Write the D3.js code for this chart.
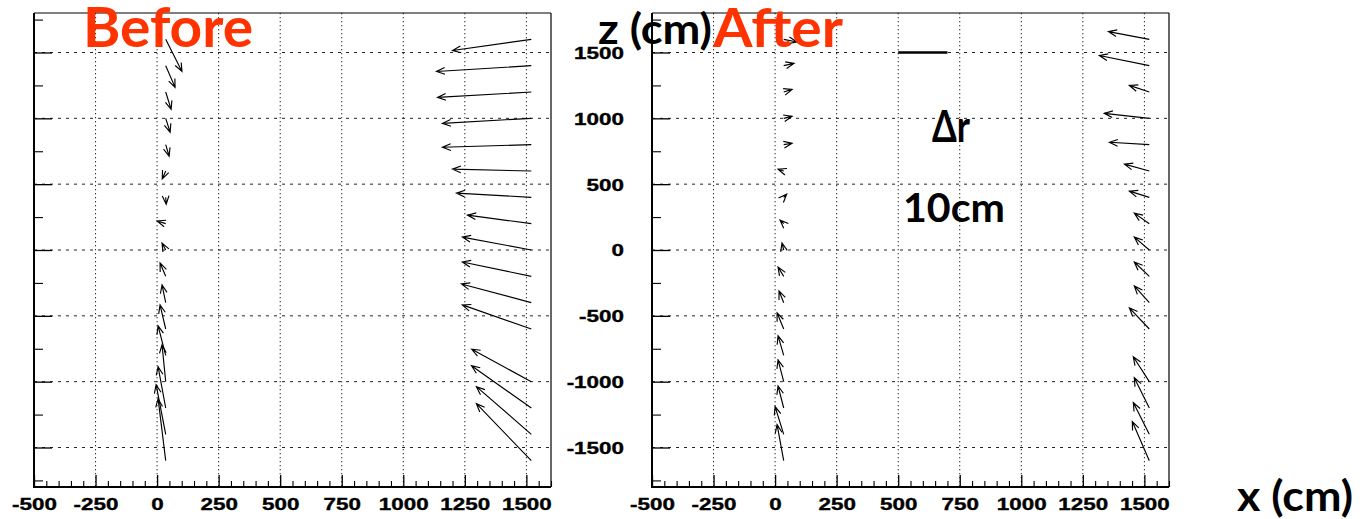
<!DOCTYPE html>
<html>
<head>
<meta charset="utf-8">
<script src="https://cdn.jsdelivr.net/npm/d3@7"></script>
<style>
  body { margin: 0; background: #fff; }
  svg { display: block; }
</style>
</head>
<body>
<svg id="chart" width="1365" height="519"></svg>
<script>
// Alignment residuals along z: each arrow starts at a (x, z) anchor and
// points along the displacement (dx, dz), given in cm.
const innerZ = [1600, 1400, 1200, 1000, 800, 600, 400, 200, 0, -200, -400, -600, -800, -1000, -1200, -1400, -1600];
const outerZ = [1600, 1400, 1200, 1000, 800, 600, 400, 200, 0, -200, -400, -600, -1000, -1200, -1400, -1600];
const innerX = 35;
const outerX = 1520;

const beforeInnerDx = [3.3, 1.9, 1.1, 0.9, 0.7, -0.7, 0.1, -1.75, -0.75, -1.15, -0.75, -1.15, -1.55, -0.75, -1.55, -1.95, -1.55];
const beforeInnerDz = [-12.2, -8.25, -6.6, -5.3, -4.4, -3.0, -2.6, 1.0, 2.65, 5.1, 6.75, 9.15, 11.2, 14.0, 15.7, 18.85, 23.55];
const beforeOuterDx = [-16, -19.25, -19.05, -18.05, -18.05, -16, -15.2, -12.95, -14, -14, -14.2, -14, -12.1, -12.15, -11.15, -11.15];
const beforeOuterDz = [-4.25, -2.2, -2.05, -1.9, -1.0, 0.7, 1.6, 3.25, 4.9, 5.45, 7.1, 9.15, 12.3, 16.05, 18.1, 21.65];

const afterInnerDx = [2.7, 2.1, 1.7, 1.7, 1.7, -1.15, 0.6, -0.75, -0.35, -1.15, -0.95, -1.35, -1.15, -1.15, -1.15, -1.75, -1.35];
const afterInnerDz = [-1.0, 0.85, 1.0, 0.75, 0.55, 0.7, 1.2, 1.35, 2.65, 3.55, 4.45, 6.15, 7.4, 8.25, 8.35, 10.55, 13.7];
const afterOuterDx = [-8.3, -10.15, -4.05, -9.15, -8.1, -5.05, -4.05, -3.05, -3.05, -3.05, -3.05, -4.05, -3.25, -3.05, -3.25, -3.45];
const afterOuterDz = [2.95, 3.85, 2.5, 1.9, 0.9, 2.6, 2.35, 4.0, 4.9, 5.45, 6.35, 8.05, 9.45, 11.5, 12.05, 14.85];

// Axis ranges and ticks (cm)
const xDomain = [-500, 1600];
const zDomain = [-1800, 1800];
const xMajorTicks = [-500, -250, 0, 250, 500, 750, 1000, 1250, 1500];
const zMajorTicks = [-1500, -1000, -500, 0, 500, 1000, 1500];
const zMinorTicks = [-1750, -1250, -750, -250, 250, 750, 1250, 1750];

// Reference bar: 10 cm of displacement
const scaleBarCm = 10;
const scaleBarStart = [500, 1500];
const arrowGain = 20; // plot units per cm of displacement

const svg = d3.select("#chart");
const plotTop = 13, plotBottom = 487;
const z = d3.scaleLinear().domain(zDomain).range([plotBottom, plotTop]);

const tickFont = "'Liberation Sans', Arial, Helvetica, sans-serif";
const stretch = 1.36;

function drawPanel(left, right, inner, outer, showZLabels, withBar) {
  const x = d3.scaleLinear().domain(xDomain).range([left, right]);
  const g = svg.append("g");

  // grid
  g.append("g").selectAll("line").data(xMajorTicks.filter(v => v > xDomain[0]))
    .join("line")
    .attr("x1", d => x(d)).attr("x2", d => x(d))
    .attr("y1", plotTop).attr("y2", plotBottom)
    .attr("stroke", "#222").attr("stroke-width", 1)
    .attr("stroke-dasharray", "1.3 2.7");
  g.append("g").selectAll("line").data(zMajorTicks)
    .join("line")
    .attr("x1", left).attr("x2", right)
    .attr("y1", d => z(d)).attr("y2", d => z(d))
    .attr("stroke", "#222").attr("stroke-width", 1)
    .attr("stroke-dasharray", "3 5");

  // arrows
  const arrows = [];
  innerZ.forEach((zz, i) => arrows.push({x0: innerX, z0: zz, dx: inner[0][i], dz: inner[1][i]}));
  outerZ.forEach((zz, i) => arrows.push({x0: outerX, z0: zz, dx: outer[0][i], dz: outer[1][i]}));
  const head = 9, spread = 22 * Math.PI / 180;
  g.append("g").selectAll("path").data(arrows).join("path")
    .attr("fill", "none").attr("stroke", "#000").attr("stroke-width", 1.15)
    .attr("stroke-linejoin", "miter")
    .attr("d", a => {
      const x1 = x(a.x0), y1 = z(a.z0);
      const x2 = x(a.x0 + a.dx * arrowGain), y2 = z(a.z0 + a.dz * arrowGain);
      const ang = Math.atan2(y2 - y1, x2 - x1);
      const b1 = [x2 - head * Math.cos(ang - spread), y2 - head * Math.sin(ang - spread)];
      const b2 = [x2 - head * Math.cos(ang + spread), y2 - head * Math.sin(ang + spread)];
      return `M${x1},${y1}L${x2},${y2}M${b1[0]},${b1[1]}L${x2},${y2}L${b2[0]},${b2[1]}`;
    });

  if (withBar) {
    g.append("line")
      .attr("x1", x(scaleBarStart[0]))
      .attr("x2", x(scaleBarStart[0] + scaleBarCm * arrowGain))
      .attr("y1", z(scaleBarStart[1])).attr("y2", z(scaleBarStart[1]))
      .attr("stroke", "#000").attr("stroke-width", 2.5);
  }

  // ticks, drawn inward from the axes
  const xMinor = d3.range(-500, 1601, 50).filter(v => !xMajorTicks.includes(v));
  g.append("g").attr("transform", `translate(0,${plotBottom})`)
    .call(d3.axisTop(x).tickValues(xMajorTicks).tickSize(12).tickFormat(""))
    .call(s => s.select(".domain").remove())
    .selectAll("line").attr("stroke-width", 1.3);
  g.append("g").attr("transform", `translate(0,${plotBottom})`)
    .call(d3.axisTop(x).tickValues(xMinor).tickSize(6).tickFormat(""))
    .call(s => s.select(".domain").remove())
    .selectAll("line").attr("stroke-width", 1.1);
  g.append("g").attr("transform", `translate(${left},0)`)
    .call(d3.axisRight(z).tickValues(zMajorTicks).tickSize(18).tickFormat(""))
    .call(s => s.select(".domain").remove())
    .selectAll("line").attr("stroke-width", 1.3);
  g.append("g").attr("transform", `translate(${left},0)`)
    .call(d3.axisRight(z).tickValues(zMinorTicks).tickSize(9).tickFormat(""))
    .call(s => s.select(".domain").remove())
    .selectAll("line").attr("stroke-width", 1.1);

  // tick labels
  const xl = g.append("g").attr("transform", `translate(0,${plotBottom})`)
    .call(d3.axisBottom(x).tickValues(xMajorTicks).tickSize(0).tickFormat(d => String(d)))
    .call(s => s.select(".domain").remove());
  xl.attr("font-family", tickFont).attr("font-size", 16.5).attr("font-weight", "bold");
  xl.selectAll("text").attr("y", 23).attr("dy", 0).attr("fill", "#000")
    .attr("stroke", "#000").attr("stroke-width", 0.35)
    .attr("transform", `scale(${stretch},1)`);

  if (showZLabels) {
    const zl = g.append("g").attr("transform", `translate(${left},0)`)
      .call(d3.axisLeft(z).tickValues(zMajorTicks).tickSize(0).tickFormat(d => String(d)))
      .call(s => s.select(".domain").remove());
    zl.attr("font-family", tickFont).attr("font-size", 16.5).attr("font-weight", "bold");
    zl.selectAll("text").attr("x", -28 / stretch).attr("dy", "0.36em").attr("fill", "#000")
      .attr("stroke", "#000").attr("stroke-width", 0.35)
      .attr("transform", `scale(${stretch},1)`);
  }

  // frame
  g.append("line").attr("x1", left).attr("x2", right).attr("y1", plotTop).attr("y2", plotTop)
    .attr("stroke", "#000").attr("stroke-width", 1.2);
  g.append("line").attr("x1", right).attr("x2", right).attr("y1", plotTop).attr("y2", plotBottom)
    .attr("stroke", "#000").attr("stroke-width", 1.2);
  g.append("line").attr("x1", left).attr("x2", left).attr("y1", plotTop).attr("y2", plotBottom + 1)
    .attr("stroke", "#000").attr("stroke-width", 2);
  g.append("line").attr("x1", left - 1).attr("x2", right).attr("y1", plotBottom).attr("y2", plotBottom)
    .attr("stroke", "#000").attr("stroke-width", 2);
}

drawPanel(34, 551, [beforeInnerDx, beforeInnerDz], [beforeOuterDx, beforeOuterDz], false, false);
drawPanel(652, 1169, [afterInnerDx, afterInnerDz], [afterOuterDx, afterOuterDz], true, true);

// annotations
const titleFont = "Lato, 'Open Sans', sans-serif";
function label(text, xPos, yPos, size, width, color) {
  svg.append("text").text(text)
    .attr("x", xPos).attr("y", yPos)
    .attr("font-family", titleFont).attr("font-weight", "bold")
    .attr("font-size", size).attr("fill", color)
    .attr("textLength", width).attr("lengthAdjust", "spacingAndGlyphs");
}
label("Before", 83, 47, 55, 170, "#ff3300");
label("After", 713, 47, 53, 130, "#ff3300");
label("z (cm)", 598, 44, 42, 114, "#000");
label("x (cm)", 1237, 511, 42, 116, "#000");
label("\u0394r", 932, 142, 44, 38, "#000");
label("10cm", 903, 222, 41, 102, "#000");
</script>
</body>
</html>
